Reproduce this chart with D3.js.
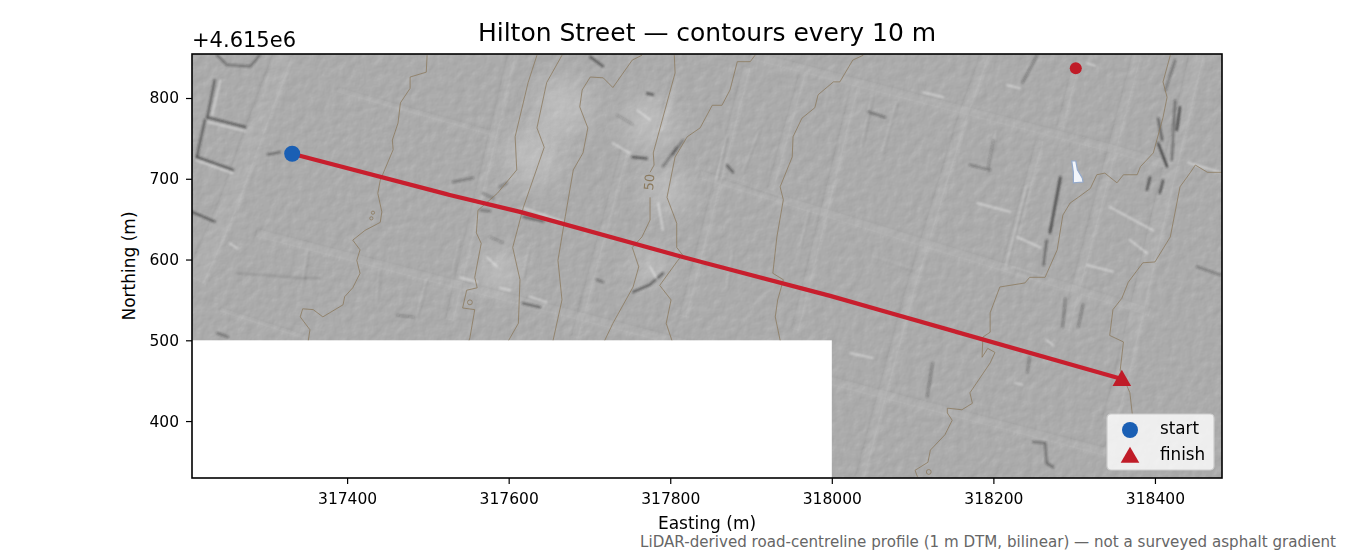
<!DOCTYPE html>
<html>
<head>
<meta charset="utf-8">
<script src="https://cdn.jsdelivr.net/npm/d3@7"></script>
<style>
  html, body { margin: 0; background: #fff; }
  svg { display: block; font-family: "DejaVu Sans", sans-serif; }
</style>
</head>
<body>
<svg id="chart"></svg>
<script>
// axis ticks, northing is an offset from 4.615e6
const eastingTicks = [317400, 317600, 317800, 318000, 318200, 318400];
const northingTicks = [400, 500, 600, 700, 800];
const eastingExtent = [317208, 318483];
const northingExtent = [329.5, 854.5];
const noData = [317208, 318000, 329.5, 500];

// route
const routeLine = [[317332, 731], [317527, 680], [317614, 659], [317812, 604], [317998, 555], [318359, 452]];
const startPoint = [317332, 731];
const finishPoint = [318359, 452];
const samplePoint = [318302, 837];

// 10 m contours
const contourA = [[317499,853],[317498,832],[317478,826],[317478,812],[317466,794],[317463,769],[317456,748],[317457,736],[317441,698],[317438,682],[317443,659],[317441,646],[317422,636],[317407,624],[317416,612],[317412,599],[317416,583],[317407,565],[317397,554],[317395,544],[317370,529],[317358,538],[317345,539],[317342,529],[317354,513],[317352,500]];
const contourB = [[317635,853],[317624,819],[317608,752],[317610,711],[317586,682],[317562,661],[317560,633],[317566,620],[317558,578],[317561,565],[317548,562],[317543,540],[317558,538],[317552,503],[317551,500]];
const contourC = [[317666,853],[317647,819],[317635,763],[317644,739],[317618,664],[317605,615],[317614,575],[317612,521],[317600,500]];
const contourD = [[317765,853],[317753,847],[317729,813],[317717,825],[317701,826],[317691,810],[317688,789],[317698,763],[317692,732],[317680,711],[317670,653],[317661,599],[317666,550],[317655,500]];
const contourE1 = [[317805,853],[317806,831],[317779,732],[317780,717],[317775,708]];
const contourE2 = [[317775,677],[317775,649],[317765,628],[317753,615],[317761,591],[317754,566],[317729,521],[317719,500]];
const contourF = [[317905,853],[317899,845],[317883,845],[317874,810],[317864,791],[317852,791],[317837,763],[317821,752],[317806,727],[317796,677],[317808,645],[317808,615],[317815,606],[317808,597],[317787,568],[317801,550],[317795,521],[317802,500]];
const contourG = [[318039,853],[318026,847],[318010,820],[318002,820],[317983,804],[317979,788],[317963,775],[317952,752],[317951,727],[317936,690],[317940,674],[317932,628],[317927,583],[317940,575],[317933,550],[317930,529],[317936,500]];
const contourH = [[318419,853],[318410,820],[318415,801],[318410,776],[318398,732],[318382,715],[318378,705],[318361,705],[318353,695],[318338,707],[318328,705],[318320,688],[318305,677],[318295,670],[318286,655],[318279,612],[318264,578],[318245,578],[318239,571],[318208,566],[318196,534],[318196,510],[318187,504],[318186,479],[318193,490],[318202,485],[318196,472],[318171,435],[318174,422],[318161,414],[318143,416],[318143,410],[318149,401],[318140,383],[318122,364],[318119,349],[318103,339],[318106,331]];
const contourI = [[318483,708],[318465,708],[318450,717],[318444,708],[318431,690],[318419,628],[318400,597],[318385,596],[318367,572],[318359,552],[318348,538],[318344,506],[318361,498],[318357,463],[318369,435],[318372,408]];
const contourLoops = [[317552,547,3],[318120,337,3],[317432,658,2],[317430,651,2]];
const contourLabel = [317774, 696, "50"];

const pond = [[318297,722],[318302,722],[318304,711],[318310,701],[318311,696],[318299,695],[318299,708]];

// streets: path then width in metres
const streetPaths = [
  [[318452,854],[318394,608],[318361,463],[318344,401]],
  [[318378,854],[318304,571],[318289,513]],
  [[318304,847],[318283,764]],
  [[318258,748],[318214,587]],
  [[318190,854],[318162,776],[318097,562],[318035,330]],
  [[318029,816],[317955,513]],
  [[317964,831],[317924,686]],
  [[317895,838],[317816,529]],
  [[317604,853],[317527,525]],
  [[317744,736],[317682,503]],
  [[317806,828],[317787,760]],
  [[317899,853],[318341,739],[318419,717]],
  [[317837,705],[318394,535]],
  [[317288,633],[318338,362]],
  [[317388,810],[317577,757]],
  [[317243,538],[317348,504]],
  [[317321,854],[317286,760],[317253,668],[317212,575]]
];
const streetWidths = [18, 11, 8, 9, 11, 9, 8, 9, 10, 9, 7, 10, 10, 10, 6, 5, 24];

// low kerbs and lot edges inside the blocks
const lotLines = [
  [[318051,803],[318037,739]], [[318081,795],[318063,732]], [[318205,760],[318192,707]], [[318242,690],[318217,591]],
  [[318224,590],[318266,577]], [[318051,603],[318101,587]], [[317870,752],[317858,698]], [[317865,702],[317940,677]],
  [[317911,760],[317890,707]], [[317973,661],[317961,615]], [[317680,670],[317709,640]], [[317540,624],[317531,583]],
  [[317626,615],[317618,575]], [[317878,612],[317870,562]], [[317352,612],[317345,566]], [[317499,575],[317487,529]],
  [[317441,587],[317437,546]]
];

// cut banks that throw a shadow, and the strength of each
const shadowPaths = [
  [[317236,822],[317227,776]], [[317227,776],[317274,764]], [[317224,773],[317214,727]], [[317214,727],[317259,711]],
  [[317239,853],[317251,841],[317280,839],[317292,853]], [[317208,659],[317236,647]], [[317302,730],[317317,733]],
  [[317531,696],[317556,701]], [[317568,682],[317581,676]], [[317589,690],[317598,695]], [[317618,653],[317643,647]],
  [[317565,661],[317577,660]], [[317701,851],[317717,839]], [[317771,806],[317779,804]], [[317753,727],[317771,725]],
  [[317803,730],[317816,748]], [[317791,715],[317808,739]], [[317617,546],[317639,541]], [[317754,560],[317775,569],[317791,583]],
  [[317870,717],[317878,708]], [[317709,575],[317717,572]], [[317734,779],[317754,767]], [[317577,628],[317593,621]],
  [[317462,531],[317482,529]], [[317239,509],[317253,504]], [[317264,583],[317342,577],[317366,577]], [[318236,819],[318254,853]],
  [[318171,717],[318196,711]], [[318200,748],[318193,714]], [[318045,783],[318066,776]], [[318283,702],[318270,633]],
  [[318404,744],[318415,715]], [[318431,789],[318427,760]], [[318394,702],[318390,686]], [[318410,698],[318406,682]],
  [[318413,810],[318425,847]], [[318266,624],[318262,593]], [[318289,552],[318286,516]], [[318311,544],[318305,516]],
  [[318125,472],[318118,430]], [[318245,479],[318242,460]], [[318249,374],[318264,373],[318266,348],[318274,343]], [[318452,591],[318481,581]],
  [[318404,775],[318409,748]], [[318425,797],[318421,723]]
];
const shadowStrength = [.6,.65,.6,.65,.5,.65,.55,.4,.35,.35,.55,.45,.65,.7,.7,.45,.45,.55,.65,.6,.45,.2,.25,.25,.45,.12,.35,.4,.3,.45,.85,.9,.85,.75,.75,.45,.55,.35,.35,.35,.35,.5,.4,.6,.5];

// bright faces turned to the light
const glintPaths = [
  [[318113,807],[318138,801]], [[318229,628],[318258,615]], [[318441,720],[318481,708]], [[318180,670],[318221,659]],
  [[318369,624],[318390,608]], [[318316,593],[318348,585]], [[318217,816],[318233,812]], [[318316,843],[318326,840]],
  [[318344,665],[318398,636]], [[318023,484],[318051,478]], [[318227,447],[318236,445]], [[318266,500],[318274,494]],
  [[317255,620],[317264,614]], [[317540,578],[317561,572]], [[317618,664],[317667,647]], [[317729,744],[317750,732]],
  [[317759,785],[317775,773]], [[317626,554],[317647,547]], [[317573,603],[317586,591]], [[317775,591],[317784,575]],
  [[317785,670],[317791,636]], [[317589,565],[317602,562]],
  [[317213,723],[317258,707]], [[317228,770],[317274,759]], [[317243,822],[317233,779]]
];

// sunlit slopes of the bluff [easting, northing, radius m]
const litSlopes = [[317630,727,35],[317667,789,35],[317775,769,32],[317796,686,27],[317775,591,22],[317589,587,25]];

const width = 1350, height = 556;
const plot = { left: 192, right: 1222, top: 54, bottom: 478 };

const x = d3.scaleLinear().domain(eastingExtent).range([plot.left, plot.right]);
const y = d3.scaleLinear().domain(northingExtent).range([plot.bottom, plot.top]);
const toLine = d3.line().x(d => x(d[0])).y(d => y(d[1]));
const pxPerM = (plot.right - plot.left) / (eastingExtent[1] - eastingExtent[0]);

const svg = d3.select("#chart").attr("width", width).attr("height", height);
const defs = svg.append("defs");

defs.append("clipPath").attr("id", "plotClip").append("rect")
  .attr("x", plot.left).attr("y", plot.top)
  .attr("width", plot.right - plot.left).attr("height", plot.bottom - plot.top);

// hillshade: greys below are heights, the filter lights them from the NW
const shade = defs.append("filter").attr("id", "hillshade")
  .attr("filterUnits", "userSpaceOnUse")
  .attr("x", plot.left).attr("y", plot.top)
  .attr("width", plot.right - plot.left).attr("height", plot.bottom - plot.top)
  .attr("color-interpolation-filters", "sRGB");
shade.append("feTurbulence").attr("type", "fractalNoise").attr("baseFrequency", 0.1)
  .attr("numOctaves", 2).attr("seed", 4).attr("result", "t");
shade.append("feColorMatrix").attr("in", "t").attr("values", "1 0 0 0 0 1 0 0 0 0 1 0 0 0 0 0 0 0 0 1").attr("result", "n");
shade.append("feComposite").attr("in", "SourceGraphic").attr("in2", "n").attr("operator", "arithmetic")
  .attr("k1", 0).attr("k2", 1).attr("k3", 0.045).attr("k4", 0).attr("result", "sum");
shade.append("feGaussianBlur").attr("in", "sum").attr("stdDeviation", 1.2).attr("result", "smooth");
shade.append("feColorMatrix").attr("in", "smooth").attr("values", "0 0 0 0 0 0 0 0 0 0 0 0 0 0 0 1 0 0 0 0").attr("result", "dem");
const light = shade.append("feDiffuseLighting").attr("in", "dem").attr("surfaceScale", 4.5)
  .attr("diffuseConstant", 0.95).attr("lighting-color", "#fff");
light.append("feDistantLight").attr("azimuth", 225).attr("elevation", 45);

defs.append("filter").attr("id", "soft").append("feGaussianBlur").attr("stdDeviation", 0.8);
defs.append("filter").attr("id", "softer")
  .attr("x", "-60%").attr("y", "-60%").attr("width", "220%").attr("height", "220%")
  .append("feGaussianBlur").attr("stdDeviation", 12);

const map = svg.append("g").attr("clip-path", "url(#plotClip)");

const relief = map.append("g").attr("filter", "url(#hillshade)");
relief.append("rect")
  .attr("x", plot.left).attr("y", plot.top)
  .attr("width", plot.right - plot.left).attr("height", plot.bottom - plot.top)
  .attr("fill", "#6c6c6c");
relief.selectAll(".street").data(streetPaths).join("path")
  .attr("class", "street")
  .attr("d", toLine)
  .attr("fill", "none")
  .attr("stroke", "#686868")
  .attr("stroke-width", (d, i) => streetWidths[i] * pxPerM);
relief.selectAll(".lot").data(lotLines).join("path")
  .attr("class", "lot")
  .attr("d", toLine)
  .attr("fill", "none")
  .attr("stroke", "#717171")
  .attr("stroke-width", 2);

// pavement reads a touch lighter than the lots
map.selectAll(".paved").data(streetPaths).join("path")
  .attr("class", "paved")
  .attr("d", toLine)
  .attr("fill", "none")
  .attr("stroke", "#fff")
  .attr("stroke-opacity", 0.05)
  .attr("stroke-width", (d, i) => streetWidths[i] * pxPerM);

// slope tint
map.selectAll(".lit").data(litSlopes).join("circle")
  .attr("class", "lit")
  .attr("cx", d => x(d[0])).attr("cy", d => y(d[1]))
  .attr("r", d => d[2] * pxPerM)
  .attr("fill", "#fff").attr("opacity", 0.22)
  .attr("filter", "url(#softer)");

map.append("g").attr("filter", "url(#soft)").selectAll("path").data(shadowPaths).join("path")
  .attr("d", toLine)
  .attr("fill", "none")
  .attr("stroke", "#222")
  .attr("stroke-linecap", "round")
  .attr("stroke-width", 2)
  .attr("opacity", (d, i) => shadowStrength[i]);

map.append("g").attr("filter", "url(#soft)").selectAll("path").data(glintPaths).join("path")
  .attr("d", toLine)
  .attr("fill", "none")
  .attr("stroke", "#f4f4f4")
  .attr("stroke-linecap", "round")
  .attr("stroke-width", 1.8)
  .attr("opacity", 0.55);

// DTM has no cells here
map.append("rect")
  .attr("x", x(noData[0])).attr("y", y(noData[3]))
  .attr("width", x(noData[1]) - x(noData[0]))
  .attr("height", y(noData[2]) - y(noData[3]))
  .attr("fill", "#fff");

map.append("path")
  .attr("d", toLine(pond) + "Z")
  .attr("fill", "#f2f5fa").attr("stroke", "#93a9cb").attr("stroke-width", 1.2);

const contours = [contourA, contourB, contourC, contourD, contourE1, contourE2, contourF, contourG, contourH, contourI];
map.selectAll(".contour").data(contours).join("path")
  .attr("class", "contour")
  .attr("d", toLine)
  .attr("fill", "none")
  .attr("stroke", "#8b7a5e")
  .attr("stroke-width", 0.8);
map.selectAll(".loop").data(contourLoops).join("circle")
  .attr("class", "loop")
  .attr("cx", d => x(d[0])).attr("cy", d => y(d[1])).attr("r", d => d[2] * pxPerM)
  .attr("fill", "none").attr("stroke", "#8b7a5e").attr("stroke-width", 0.8);
map.append("text")
  .attr("transform", `translate(${x(contourLabel[0])},${y(contourLabel[1])}) rotate(-85)`)
  .attr("text-anchor", "middle").attr("dominant-baseline", "central")
  .attr("font-size", 13).attr("fill", "#8b7a5e")
  .text(contourLabel[2]);

map.append("path")
  .attr("d", toLine(routeLine))
  .attr("fill", "none")
  .attr("stroke", "#c81e2d")
  .attr("stroke-width", 4.2);

map.append("circle")
  .attr("cx", x(samplePoint[0])).attr("cy", y(samplePoint[1])).attr("r", 6)
  .attr("fill", "#c01c28");
map.append("circle")
  .attr("cx", x(startPoint[0])).attr("cy", y(startPoint[1])).attr("r", 8)
  .attr("fill", "#1a5fb4");
map.append("path")
  .attr("transform", `translate(${x(finishPoint[0])},${y(finishPoint[1]) + 1.5})`)
  .attr("d", d3.symbol(d3.symbolTriangle, 150)())
  .attr("fill", "#c01c28");

// axes
const xAxis = svg.append("g").attr("transform", `translate(0,${plot.bottom})`)
  .call(d3.axisBottom(x).tickValues(eastingTicks).tickFormat(d3.format("d")).tickSize(6).tickPadding(9));
const yAxis = svg.append("g").attr("transform", `translate(${plot.left},0)`)
  .call(d3.axisLeft(y).tickValues(northingTicks).tickFormat(d3.format("d")).tickSize(6).tickPadding(7));
[xAxis, yAxis].forEach(a => {
  a.selectAll(".domain").remove();
  a.selectAll("line").attr("stroke", "#000").attr("stroke-width", 1.2);
  a.selectAll("text").attr("font-size", 15.5).attr("font-family", "DejaVu Sans").attr("fill", "#000");
});

svg.append("rect")
  .attr("x", plot.left).attr("y", plot.top)
  .attr("width", plot.right - plot.left).attr("height", plot.bottom - plot.top)
  .attr("fill", "none").attr("stroke", "#000").attr("stroke-width", 1.6);

// text
svg.append("text").attr("x", 707).attr("y", 41).attr("text-anchor", "middle")
  .attr("font-size", 25).text("Hilton Street — contours every 10 m");
svg.append("text").attr("x", 192).attr("y", 47).attr("font-size", 21).text("+4.615e6");
svg.append("text").attr("x", 707).attr("y", 529).attr("text-anchor", "middle")
  .attr("font-size", 17).text("Easting (m)");
svg.append("text").attr("transform", "translate(135,266) rotate(-90)").attr("text-anchor", "middle")
  .attr("font-size", 17).text("Northing (m)");
svg.append("text").attr("x", 1336).attr("y", 547).attr("text-anchor", "end")
  .attr("font-size", 15.1).attr("fill", "#666")
  .text("LiDAR-derived road-centreline profile (1 m DTM, bilinear) — not a surveyed asphalt gradient");

// legend
const legend = svg.append("g").attr("transform", "translate(1107,414)");
legend.append("rect").attr("width", 107).attr("height", 56).attr("rx", 4)
  .attr("fill", "#fff").attr("fill-opacity", 0.8).attr("stroke", "#ccc").attr("stroke-width", 1.2);
legend.append("circle").attr("cx", 23).attr("cy", 16).attr("r", 8).attr("fill", "#1a5fb4");
legend.append("path").attr("transform", "translate(23,43.5)")
  .attr("d", d3.symbol(d3.symbolTriangle, 150)()).attr("fill", "#c01c28");
legend.append("text").attr("x", 53).attr("y", 20).attr("font-size", 16.8).text("start");
legend.append("text").attr("x", 53).attr("y", 46).attr("font-size", 16.8).text("finish");
</script>
</body>
</html>
